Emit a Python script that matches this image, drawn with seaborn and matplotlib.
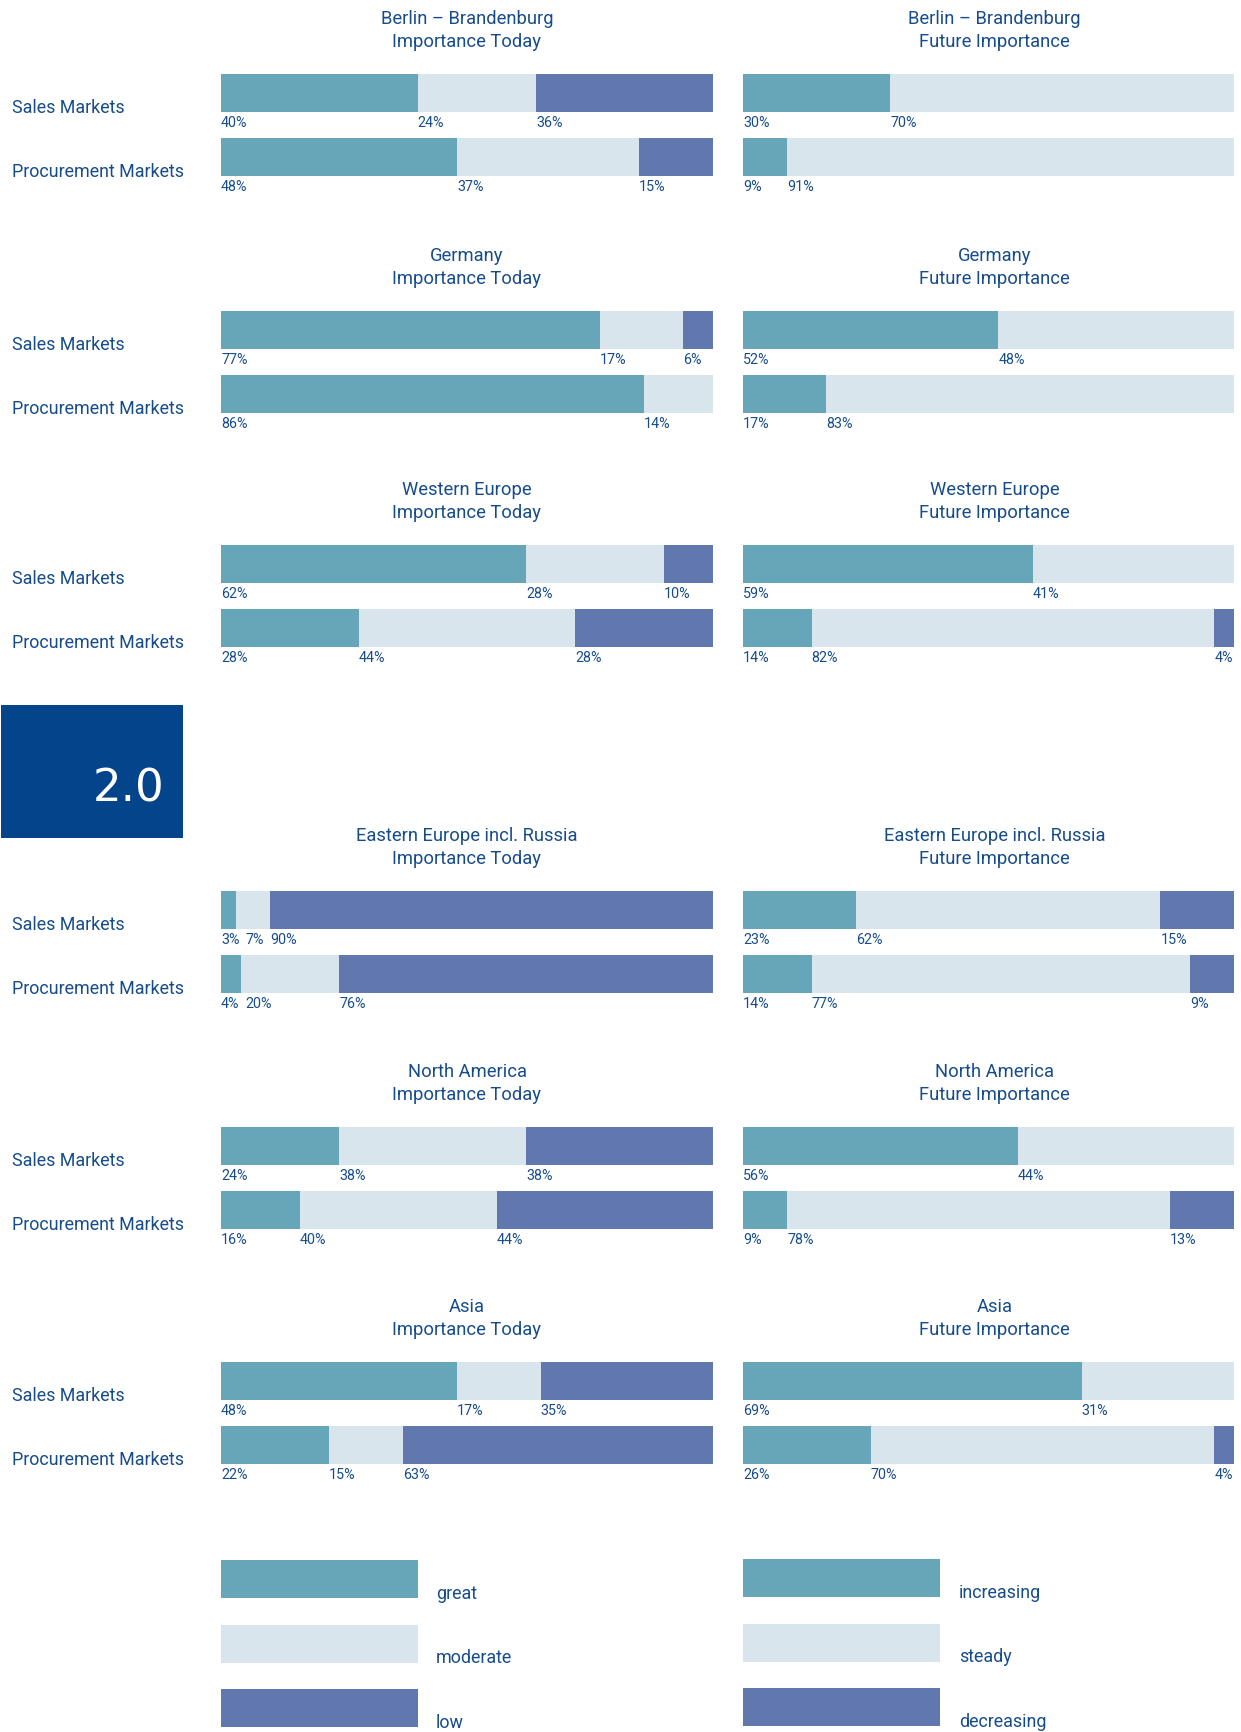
import matplotlib
matplotlib.use("Agg")
import matplotlib.pyplot as plt
from matplotlib.patches import Rectangle
from matplotlib.transforms import blended_transform_factory
import seaborn as sns
import pandas as pd

# ---------------- data ----------------
regions = ["Berlin – Brandenburg", "Germany", "Western Europe",
           "Eastern Europe incl. Russia", "North America", "Asia"]
markets = ["Sales Markets", "Procurement Markets"]
col_titles = ["Importance Today", "Future Importance"]

today_sales_great = [40, 77, 62, 3, 24, 48]
today_sales_moderate = [24, 17, 28, 7, 38, 17]
today_sales_low = [36, 6, 10, 90, 38, 35]
today_proc_great = [48, 86, 28, 4, 16, 22]
today_proc_moderate = [37, 14, 44, 20, 40, 15]
today_proc_low = [15, 0, 28, 76, 44, 63]

future_sales_increasing = [30, 52, 59, 23, 56, 69]
future_sales_steady = [70, 48, 41, 62, 44, 31]
future_sales_decreasing = [0, 0, 0, 15, 0, 0]
future_proc_increasing = [9, 17, 14, 14, 9, 26]
future_proc_steady = [91, 83, 82, 77, 78, 70]
future_proc_decreasing = [0, 0, 4, 9, 13, 4]

legend_today = ["great", "moderate", "low"]
legend_future = ["increasing", "steady", "decreasing"]
section_label = "2.0"

# ---------------- style ----------------
C_GREAT = "#66A6B8"
C_MOD = "#D9E5ED"
C_LOW = "#6078AE"
C_TEXT = "#164C8C"
C_BOX = "#03448A"
colors = [C_GREAT, C_MOD, C_LOW]

sns.set_style("white")
plt.rcParams["font.family"] = ["Roboto", "DejaVu Sans"]

W, H = 1241, 1733
fig = plt.figure(figsize=(W / 100, H / 100), dpi=100)
fig.patch.set_facecolor("white")
renderer = fig.canvas.get_renderer()


def fx(x):
    return x / W


def fy(y):
    return 1 - y / H


def add_ax(x0, y0, x1, y1):
    return fig.add_axes([fx(x0), fy(y1), fx(x1) - fx(x0), (y1 - y0) / H])


sales_tops = [75, 312, 546, 892, 1128, 1363]
col_x = [(221, 713), (743, 1234)]
title_cx = [467, 994.5]
BAR_PITCH = 64
BAR_H = 38
bw = BAR_H / BAR_PITCH
half = bw / 2

today = [(today_sales_great, today_sales_moderate, today_sales_low),
         (today_proc_great, today_proc_moderate, today_proc_low)]
future = [(future_sales_increasing, future_sales_steady, future_sales_decreasing),
          (future_proc_increasing, future_proc_steady, future_proc_decreasing)]

for r, region in enumerate(regions):
    top = sales_tops[r]
    for c, series in enumerate([today, future]):
        x0, x1 = col_x[c]
        ax = add_ax(x0, top, x1, top + BAR_PITCH + BAR_H)
        segs = []
        for m in range(2):
            g, mo, lo = series[m][0][r], series[m][1][r], series[m][2][r]
            segs.append((g, mo, lo))
        df = pd.DataFrame({
            "market": markets,
            "c1": [s[0] for s in segs],
            "c2": [s[0] + s[1] for s in segs],
            "c3": [s[0] + s[1] + s[2] for s in segs],
        })
        for col, colr in zip(["c3", "c2", "c1"], [C_LOW, C_MOD, C_GREAT]):
            sns.barplot(data=df, x=col, y="market", order=markets, color=colr,
                        saturation=1, width=bw, linewidth=0, errorbar=None,
                        orient="h", ax=ax)
        ax.set_xlim(0, 100)
        ax.set_ylim(1 + half, -half)
        ax.set_axis_off()
        # percentage labels at segment starts (shifted right if they collide)
        for m, s in enumerate(segs):
            start = 0
            prev_right = None
            for v in s:
                if v > 0:
                    seg_px = ax.transData.transform((start, 0))[0]
                    shift = 0
                    if prev_right is not None and seg_px < prev_right + 6:
                        shift = prev_right + 6 - seg_px
                    t = ax.annotate(f"{v}%", xy=(start, m + half),
                                    xytext=(shift, -3),
                                    textcoords="offset pixels", ha="left",
                                    va="top", fontsize=10.3, color=C_TEXT)
                    prev_right = t.get_window_extent(renderer).x1
                start += v
        # titles
        fig.text(fx(title_cx[c]), fy(top - 51), region, ha="center",
                 va="baseline", fontsize=13.2, color=C_TEXT)
        fig.text(fx(title_cx[c]), fy(top - 28), col_titles[c], ha="center",
                 va="baseline", fontsize=13.2, color=C_TEXT)
        # row labels
        if c == 0:
            tr = blended_transform_factory(fig.transFigure, ax.transData)
            for m, name in enumerate(markets):
                ax.text(fx(12), m + half, name, transform=tr, ha="left",
                        va="baseline", fontsize=12.9, color=C_TEXT)

# section box
fig.patches.append(Rectangle((fx(1), fy(839)), fx(183) - fx(1), (839 - 706) / H,
                             transform=fig.transFigure, facecolor=C_BOX,
                             edgecolor="none", zorder=0))
fig.text(fx(164), fy(802), section_label, ha="right", va="baseline",
         fontsize=32.5, color="white", family="DejaVu Sans")

# legends
leg_specs = [((221, 418), 1561, 436, legend_today),
             ((743, 940), 1560, 959, legend_future)]
for (lx0, lx1), ltop, tx, labels in leg_specs:
    lax = add_ax(lx0, ltop, lx1, ltop + 2 * 64.5 + BAR_H)
    ldf = pd.DataFrame({"label": labels, "val": [1, 1, 1]})
    sns.barplot(data=ldf, x="val", y="label", hue="label", order=labels,
                hue_order=labels, palette=colors, saturation=1,
                width=BAR_H / 64.5, linewidth=0, errorbar=None, orient="h",
                legend=False, ax=lax)
    lh = (BAR_H / 64.5) / 2
    lax.set_xlim(0, 1)
    lax.set_ylim(2 + lh, -lh)
    lax.set_axis_off()
    tr = blended_transform_factory(fig.transFigure, lax.transData)
    for i, lab in enumerate(labels):
        lax.text(fx(tx), i + lh, lab, transform=tr, ha="left", va="baseline",
                 fontsize=12.9, color=C_TEXT)

fig.savefig("out.png", dpi=100, facecolor="white")
